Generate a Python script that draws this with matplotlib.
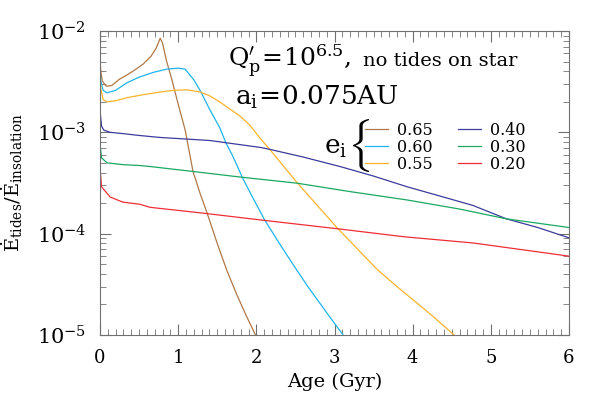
import matplotlib
matplotlib.use("Agg")
import matplotlib.pyplot as plt
from matplotlib.ticker import FixedLocator, MultipleLocator, LogLocator, NullFormatter

plt.rcParams["font.family"] = "serif"
plt.rcParams["font.serif"] = ["DejaVu Serif"]
plt.rcParams["mathtext.fontset"] = "dejavuserif"

# initial eccentricities and their curves (age in Gyr, ratio)
ecc_labels = ["0.65", "0.60", "0.55", "0.40", "0.30", "0.20"]
colors = ["#b07848", "#1eb4ee", "#f8b42a", "#3c3c9c", "#1aa862", "#ee2e36"]

age_065 = [0.0, 0.01, 0.03, 0.08, 0.15, 0.25, 0.35, 0.45, 0.55, 0.65, 0.72, 0.77,
           0.80, 0.85, 0.92, 1.00, 1.09, 1.19, 1.28, 1.37, 1.50, 1.62, 1.75, 1.88, 2.00]
val_065 = [5.2e-3, 4.0e-3, 3.2e-3, 2.85e-3, 2.9e-3, 3.35e-3, 3.7e-3, 4.15e-3, 4.7e-3,
           5.6e-3, 6.8e-3, 8.5e-3, 7.6e-3, 5.1e-3, 3.3e-3, 1.9e-3, 1.05e-3, 4.1e-4,
           2.5e-4, 1.6e-4, 8.0e-5, 4.4e-5, 2.5e-5, 1.5e-5, 9.6e-6]

age_060 = [0.0, 0.01, 0.04, 0.09, 0.2, 0.35, 0.5, 0.68, 0.85, 1.0, 1.09, 1.2, 1.28,
           1.4, 1.53, 1.61, 1.70, 1.82, 1.95, 2.11, 2.3, 2.49, 2.66, 2.9, 3.11]
val_060 = [4.3e-3, 3.2e-3, 2.6e-3, 2.45e-3, 2.6e-3, 3.1e-3, 3.5e-3, 3.9e-3, 4.2e-3,
           4.3e-3, 4.2e-3, 3.3e-3, 2.6e-3, 1.7e-3, 1.12e-3, 7.9e-4, 5.8e-4, 3.6e-4,
           2.3e-4, 1.35e-4, 7.9e-5, 4.7e-5, 3.0e-5, 1.66e-5, 1.0e-5]

age_055 = [0.0, 0.01, 0.04, 0.09, 0.2, 0.35, 0.55, 0.77, 0.95, 1.11, 1.28, 1.4, 1.53,
           1.66, 1.79, 1.92, 2.05, 2.17, 2.52, 3.03, 3.55, 3.80, 4.0, 4.25, 4.53]
val_055 = [3.7e-3, 2.7e-3, 2.1e-3, 2.0e-3, 2.05e-3, 2.2e-3, 2.35e-3, 2.5e-3, 2.6e-3,
           2.63e-3, 2.5e-3, 2.3e-3, 2.0e-3, 1.7e-3, 1.45e-3, 1.17e-3, 8.7e-4, 6.8e-4,
           3.2e-4, 1.15e-4, 4.4e-5, 3.0e-5, 2.24e-5, 1.55e-5, 1.0e-5]

age_040 = [0.0, 0.005, 0.02, 0.05, 0.13, 0.3, 0.51, 0.77, 1.09, 1.41, 1.61, 2.05,
           2.17, 2.6, 3.07, 3.5, 3.93, 4.35, 4.77, 5.2, 5.6, 6.0]
val_040 = [2.0e-3, 1.5e-3, 1.15e-3, 1.05e-3, 1.0e-3, 9.7e-4, 9.3e-4, 8.9e-4, 8.6e-4,
           8.3e-4, 7.9e-4, 7.1e-4, 6.8e-4, 5.7e-4, 4.6e-4, 3.7e-4, 2.9e-4, 2.35e-4,
           1.9e-4, 1.4e-4, 1.15e-4, 9.1e-5]

age_030 = [0.0, 0.005, 0.02, 0.09, 0.29, 0.51, 0.64, 1.2, 1.82, 2.52, 3.2, 3.93,
           4.6, 5.2, 6.0]
val_030 = [1.0e-3, 7.0e-4, 5.6e-4, 5.0e-4, 4.8e-4, 4.7e-4, 4.6e-4, 4.1e-4, 3.6e-4,
           3.15e-4, 2.6e-4, 2.15e-4, 1.75e-4, 1.4e-4, 1.15e-4]

age_020 = [0.0, 0.005, 0.02, 0.13, 0.29, 0.51, 0.64, 1.3, 2.11, 3.03, 3.9, 4.77, 6.0]
val_020 = [5.7e-4, 4.0e-4, 2.9e-4, 2.3e-4, 2.05e-4, 1.95e-4, 1.82e-4, 1.6e-4,
           1.35e-4, 1.12e-4, 9.3e-5, 8.1e-5, 6.0e-5]

ages = [age_065, age_060, age_055, age_040, age_030, age_020]
vals = [val_065, val_060, val_055, val_040, val_030, val_020]

x_ticks = [0, 1, 2, 3, 4, 5, 6]
y_ticks = [1e-5, 1e-4, 1e-3, 1e-2]
y_ticklabels = [r"$10^{-5}$", r"$10^{-4}$", r"$10^{-3}$", r"$10^{-2}$"]

W, H = 599, 399
fig = plt.figure(figsize=(W / 100, H / 100), dpi=100)
ax = fig.add_axes([100 / W, 1 - 335 / H, 469 / W, 304 / H])

for a, v, c, lab in zip(ages, vals, colors, ecc_labels):
    ax.plot(a, v, color=c, lw=0.9, label=lab)

ax.set_yscale("log")
ax.set_xlim(0, 6)
ax.set_ylim(1e-5, 1e-2)
ax.set_xticks(x_ticks, [str(t) for t in x_ticks], fontsize=13)
ax.xaxis.set_minor_locator(MultipleLocator(0.1))
ax.yaxis.set_major_locator(FixedLocator(y_ticks))
ax.set_yticklabels(y_ticklabels, fontsize=15)
ax.yaxis.set_minor_locator(LogLocator(base=10, subs=range(2, 10)))
ax.yaxis.set_minor_formatter(NullFormatter())
ax.tick_params(which="both", direction="in", top=True, right=True, color="#707070")
ax.tick_params(which="major", length=8, width=0.8, pad=10)
ax.tick_params(which="minor", length=4, width=0.6)
for s in ax.spines.values():
    s.set_color("#707070")
    s.set_linewidth(0.8)

ax.set_xlabel("Age (Gyr)", fontsize=14, labelpad=4)
ax.set_ylabel(r"$\dot{\rm E}_{\rm tides}/\dot{\rm E}_{\rm insolation}$", fontsize=14, labelpad=8)

fig.text(228 / W, 1 - 61 / H, r"$\mathrm{Q}_\mathrm{p}^{\prime}\!=\!10^{6.5}$,",
         fontsize=18, va="center", ha="left")
fig.text(363 / W, 1 - 61 / H, "no tides on star", fontsize=14, va="center", ha="left")
fig.text(235 / W, 1 - 97 / H, r"$\mathrm{a}_\mathrm{i}\!=\!0.075\mathrm{AU}$",
         fontsize=19, va="center", ha="left")
fig.text(324 / W, 1 - 147 / H, r"$\mathrm{e}_\mathrm{i}$", fontsize=19, va="center", ha="left")
fig.text(347 / W, 1 - 146 / H, r"$\{$", fontsize=32, va="center", ha="left",
         math_fontfamily="cm")

ax.legend(ncol=2, loc="upper left", bbox_to_anchor=(365 / W, 1 - 122 / H),
          bbox_transform=fig.transFigure, frameon=False, fontsize=11.5,
          handlelength=1.45, handletextpad=0.55, columnspacing=1.6,
          labelspacing=0.0, borderpad=0, borderaxespad=0)

fig.savefig("out.png", dpi=100)
